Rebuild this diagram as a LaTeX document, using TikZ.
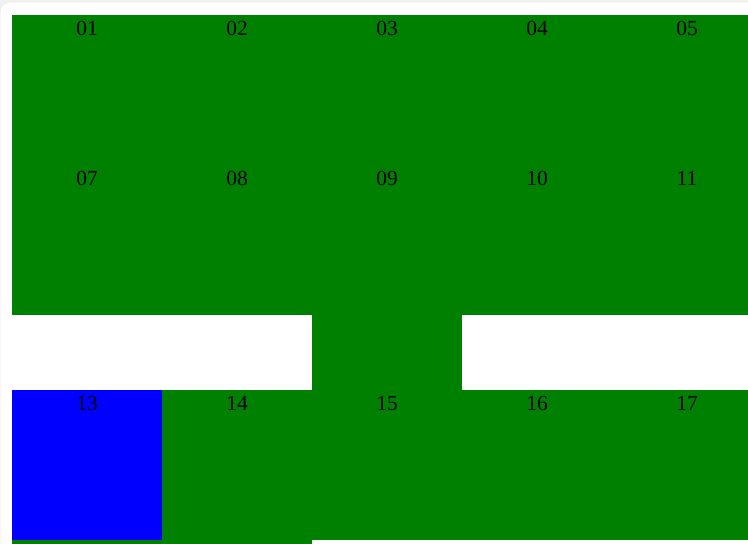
\documentclass[tikz,border=0pt]{standalone}
\usepackage{fontspec}
\setmainfont{Liberation Serif}
\definecolor{webgreen}{HTML}{008000}
\definecolor{webblue}{HTML}{0000FF}
\definecolor{pagegray}{HTML}{F0F0F0}
\tikzset{
  cellfill/.style={fill=webgreen},
  celllabel/.style={anchor=base, inner sep=0pt, font=\fontsize{21.5}{26}\selectfont, text=black}
}
\begin{document}
\begin{tikzpicture}[x=1pt,y=-1pt]
\useasboundingbox (0,0) rectangle (748,544);
\begin{scope}
\clip (0,0) rectangle (748,544);
\fill[pagegray] (0,0) rectangle (748,544);
\fill[white, rounded corners=10pt] (0.5,2.5) rectangle (760,560);
% rows 1 and 2
\fill[cellfill] (12,15) rectangle (762,315);
% middle block
\fill[cellfill] (312,315) rectangle (462,390);
% row 3
\fill[fill=webblue] (12,390) rectangle (162,540);
\fill[cellfill] (162,390) rectangle (762,540);
% strip below 13, 14
\fill[cellfill] (12,540) rectangle (312,560);
\end{scope}
\foreach \lab/\cx/\cy in {01/87/35,02/237/35,03/387/35,04/537/35,05/687/35,
  07/87/185,08/237/185,09/387/185,10/537/185,11/687/185,
  13/87/410,14/237/410,15/387/410,16/537/410,17/687/410}
  \node[celllabel] (c\lab) at (\cx,\cy) {\lab};
\end{tikzpicture}
\end{document}
